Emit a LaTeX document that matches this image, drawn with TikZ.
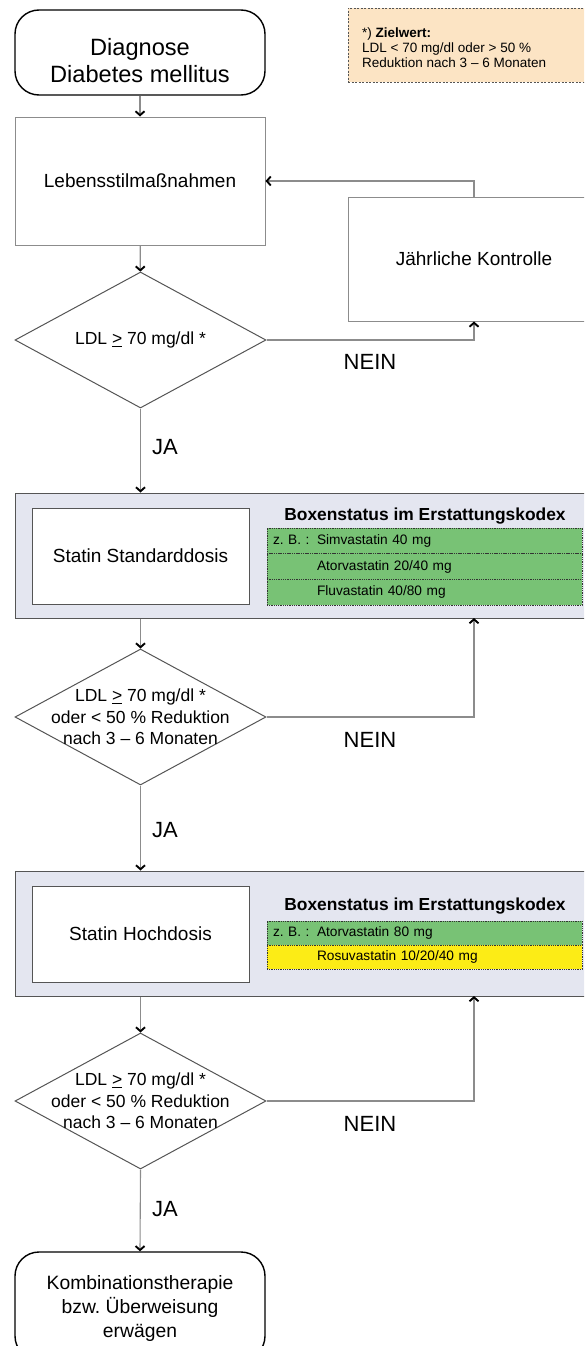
\documentclass[tikz,border=0pt]{standalone}
\usepackage{fontspec}
\setmainfont{Liberation Sans}
\usetikzlibrary{shapes.geometric,arrows.meta,calc}
\definecolor{panelfill}{RGB}{228,230,240}
\definecolor{rowgreen}{RGB}{120,194,117}
\definecolor{rowyellow}{RGB}{252,236,22}
\definecolor{notefill}{RGB}{252,228,196}
\definecolor{linegray}{RGB}{140,140,140}
\definecolor{edgegray}{RGB}{85,85,85}
\newcommand{\fsz}[2]{\fontsize{#1}{#2}\selectfont}
\frenchspacing
\begin{document}
\begin{tikzpicture}[x=1pt,y=-1pt,
  conn/.style={draw=linegray, line width=1.1pt, -{Straight Barb[length=4pt,width=9pt,line width=1.9pt,color=black]}},
  term/.style={draw=black, line width=1.4pt, rounded corners=24pt, minimum width=250pt, inner sep=0pt},
  termtext/.style={align=center, inner sep=0pt},
  procbox/.style={draw=linegray, line width=1pt, fill=white, align=center, inner sep=0pt, font=\fsz{19}{23}},
  dia/.style={draw=edgegray, line width=1pt, diamond, minimum width=251pt, minimum height=136pt, inner sep=0pt, fill=white},
  diatext/.style={align=center, font=\fsz{17.5}{21.5}, inner sep=0pt},
  answer/.style={font=\fsz{22}{26}, inner sep=0pt},
  panel/.style={draw=edgegray, line width=1pt, fill=panelfill, minimum width=585pt, minimum height=125pt, inner sep=0pt},
  whitebox/.style={draw=edgegray, line width=1pt, fill=white, minimum width=217pt, minimum height=96pt, align=center, font=\fsz{19}{23}, inner sep=0pt},
  boxtitle/.style={font=\bfseries\fsz{17.4}{20}, inner sep=0pt},
  drugrow/.style={draw=black!80, densely dotted, line width=0.8pt, minimum width=315pt, text width=303pt, align=left, inner xsep=6pt, inner ysep=0pt, font=\fsz{13.7}{16}},
  notebox/.style={draw=edgegray, dash pattern=on 2pt off 1.5pt, line width=0.9pt, fill=notefill, minimum width=252pt, minimum height=74pt, inner sep=0pt},
]
\clip (0,0) rectangle (584,1346);

% top
\node[term, minimum height=85pt] (start) at (140,52.5) {};
\node[termtext, font=\fsz{23.6}{27}] (startt) at (140,61) {Diagnose\\Diabetes mellitus};
\node[notebox] (note) at (474,45) {};
\node[anchor=west, align=left, font=\fsz{13.5}{15}, inner sep=0pt] (notetext) at (362,48) {*) \textbf{Zielwert:}\\LDL < 70 mg/dl oder > 50 \%\\Reduktion nach 3 – 6 Monaten};

\node[procbox, minimum width=250pt, minimum height=128pt] (life) at (140,181) {Lebensstilmaßnahmen};
\node[procbox, minimum width=252pt, minimum height=124pt] (jk) at (474,259) {Jährliche Kontrolle};

\node[dia] (d1) at (140.5,340) {};
\node[diatext] (d1t) at (d1.center) {LDL \underline{>} 70 mg/dl *};
\node[answer] (nein1) at (370,362) {NEIN};
\node[answer] (ja1) at (165,447) {JA};

% panel 1
\node[panel] (p1) at (307.5,555.5) {};
\node[whitebox] (std) at (140.5,556) {Statin Standarddosis};
\node[boxtitle] (t1) at (425,516) {Boxenstatus im Erstattungskodex};
\node[drugrow, fill=rowgreen, minimum height=25.7pt] (r11) at (424.5,540.8) {\makebox[44pt][l]{z. B. :}Simvastatin 40 mg};
\node[drugrow, fill=rowgreen, minimum height=25.7pt] (r12) at (424.5,566.5) {\hspace*{44pt}Atorvastatin 20/40 mg};
\node[drugrow, fill=rowgreen, minimum height=25.7pt] (r13) at (424.5,592.2) {\hspace*{44pt}Fluvastatin 40/80 mg};
\coordinate (ret1) at (474,618);

\node[dia] (d2) at (140.5,717) {};
\node[diatext] (d2t) at (d2.center) {LDL \underline{>} 70 mg/dl *\\oder < 50 \% Reduktion\\nach 3 – 6 Monaten};
\node[answer] (nein2) at (370,740) {NEIN};
\node[answer] (ja2) at (165,830) {JA};

% panel 2
\node[panel] (p2) at (307.5,933.5) {};
\node[whitebox] (hoch) at (140.5,934) {Statin Hochdosis};
\node[boxtitle] (t2) at (425,906) {Boxenstatus im Erstattungskodex};
\node[drugrow, fill=rowgreen, minimum height=24pt] (r21) at (424.5,933) {\makebox[44pt][l]{z. B. :}Atorvastatin 80 mg};
\node[drugrow, fill=rowyellow, minimum height=24pt] (r22) at (424.5,957) {\hspace*{44pt}Rosuvastatin 10/20/40 mg};
\coordinate (ret2) at (474,996);

\node[dia] (d3) at (140.5,1101) {};
\node[diatext] (d3t) at (d3.center) {LDL \underline{>} 70 mg/dl *\\oder < 50 \% Reduktion\\nach 3 – 6 Monaten};
\node[answer] (nein3) at (370,1124) {NEIN};
\node[answer] (ja3) at (165,1209) {JA};

\node[term, minimum height=108pt] (final) at (140,1306) {};
\node[termtext, font=\fsz{19.3}{24}] (finalt) at (140,1308) {Kombinationstherapie\\bzw. Überweisung\\erwägen};

% connectors
\draw[conn] (start) -- (life);
\draw[conn] (life) -- (d1);
\draw[conn] (d1.east) -| (jk.south);
\draw[conn] (jk.north) |- (life.east);
\draw[conn] (d1.south) -- (d1.south |- p1.north);
\draw[conn] (d1.south |- p1.south) -- (d2.north);
\draw[conn] (d2.east) -| (ret1);
\draw[conn] (d2.south) -- (d2.south |- p2.north);
\draw[conn] (d2.south |- p2.south) -- (d3.north);
\draw[conn] (d3.east) -| (ret2);
\draw[conn] (d3.south) -- (final.north);
\end{tikzpicture}
\end{document}
